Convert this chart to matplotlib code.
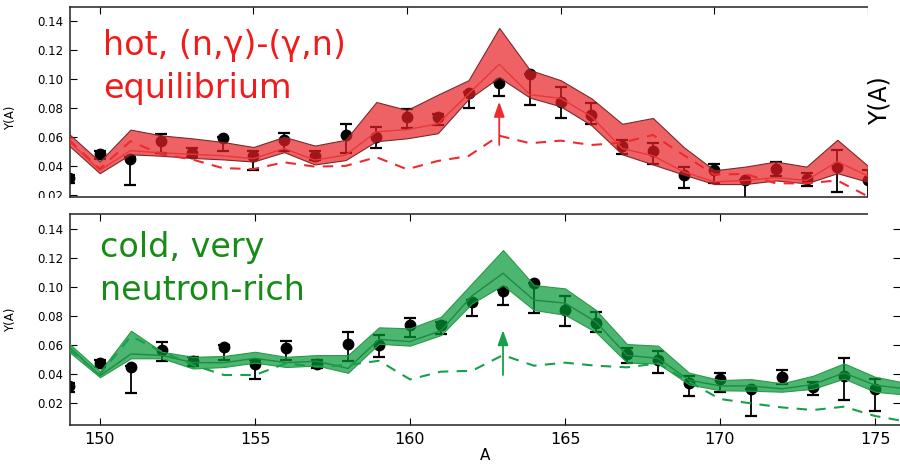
import matplotlib
matplotlib.use("Agg")
import matplotlib.pyplot as plt
from matplotlib.patches import Rectangle

# ---------------- data ----------------
A_exp = list(range(149, 176))
Y_exp = [0.032, 0.048, 0.045, 0.057, 0.049, 0.059, 0.047, 0.058, 0.047, 0.061,
         0.060, 0.074, 0.074, 0.090, 0.097, 0.103, 0.084, 0.075, 0.054, 0.050,
         0.034, 0.037, 0.030, 0.038, 0.031, 0.039, 0.030]
Y_err_lo = [0.004, 0.003, 0.018, 0.008, 0.003, 0.009, 0.010, 0.008, 0.003, 0.012,
            0.008, 0.008, 0.006, 0.010, 0.009, 0.021, 0.011, 0.006, 0.006, 0.009,
            0.009, 0.009, 0.019, 0.005, 0.005, 0.017, 0.015]
Y_err_hi = [0.002, 0.002, 0.001, 0.005, 0.003, 0.001, 0.003, 0.005, 0.003, 0.008,
            0.007, 0.005, 0.002, 0.001, 0.001, 0.000, 0.010, 0.008, 0.004, 0.006,
            0.005, 0.004, 0.000, 0.005, 0.004, 0.012, 0.007]

A_mod = list(range(149, 177))
hot_lo = [0.054, 0.035, 0.048, 0.047, 0.0455, 0.0445, 0.043, 0.0495, 0.041, 0.044,
          0.057, 0.059, 0.0625, 0.086, 0.101, 0.087, 0.081, 0.068, 0.048, 0.041,
          0.034, 0.0275, 0.0275, 0.030, 0.028, 0.035, 0.029, 0.027]
hot_hi = [0.062, 0.043, 0.065, 0.061, 0.059, 0.0565, 0.053, 0.060, 0.054, 0.058,
          0.084, 0.0785, 0.089, 0.099, 0.135, 0.106, 0.099, 0.0865, 0.069, 0.073,
          0.053, 0.037, 0.0395, 0.043, 0.0395, 0.058, 0.040, 0.035]
hot_mid = [0.057, 0.037, 0.0505, 0.049, 0.048, 0.047, 0.045, 0.052, 0.044, 0.0475,
           0.0635, 0.065, 0.069, 0.0895, 0.110, 0.089, 0.0865, 0.074, 0.052, 0.047,
           0.036, 0.029, 0.030, 0.032, 0.030, 0.043, 0.033, 0.030]
hot_dash = [0.058, 0.038, 0.057, 0.048, 0.0445, 0.0385, 0.0378, 0.0425, 0.0395, 0.040,
            0.046, 0.0377, 0.0434, 0.0468, 0.0608, 0.0556, 0.0574, 0.0544, 0.056, 0.0613,
            0.0475, 0.034, 0.0345, 0.028, 0.028, 0.030, 0.019, 0.015]

cold_lo = [0.0555, 0.038, 0.051, 0.051, 0.044, 0.045, 0.048, 0.045, 0.046, 0.041,
           0.061, 0.0597, 0.067, 0.0888, 0.1014, 0.0842, 0.081, 0.069, 0.048, 0.0475,
           0.033, 0.029, 0.0287, 0.028, 0.030, 0.037, 0.028, 0.026]
cold_hi = [0.0613, 0.042, 0.070, 0.0555, 0.052, 0.0526, 0.0555, 0.052, 0.0532, 0.0532,
           0.0723, 0.0716, 0.0796, 0.1026, 0.1255, 0.1014, 0.0991, 0.0842, 0.0608, 0.0597,
           0.0411, 0.036, 0.0367, 0.0338, 0.039, 0.0475, 0.0383, 0.034]
cold_mid = [0.059, 0.039, 0.054, 0.053, 0.048, 0.048, 0.051, 0.048, 0.049, 0.044,
            0.064, 0.0625, 0.070, 0.094, 0.1095, 0.091, 0.089, 0.076, 0.053, 0.051,
            0.036, 0.032, 0.032, 0.030, 0.033, 0.041, 0.0325, 0.030]
cold_dash = [0.057, 0.040, 0.0663, 0.0555, 0.0464, 0.0395, 0.0395, 0.0475, 0.0452, 0.0464,
             0.0493, 0.0365, 0.0418, 0.0424, 0.0532, 0.0459, 0.048, 0.0459, 0.0448, 0.0475,
             0.0349, 0.023, 0.020, 0.0172, 0.0154, 0.0177, 0.0113, 0.0075]

arrow_A = 163
hot_arrow = [0.0544, 0.0842]
cold_arrow = [0.0395, 0.0704]

y_ticks = [0.02, 0.04, 0.06, 0.08, 0.10, 0.12, 0.14]
y_ticklabels = ["0.02", "0.04", "0.06", "0.08", "0.10", "0.12", "0.14"]
x_ticks = [150, 155, 160, 165, 170, 175]

hot_text = ["hot, (n,\u03b3)-(\u03b3,n)", "equilibrium"]
cold_text = ["cold, very", "neutron-rich"]

# ---------------- layout ----------------
W, H = 900, 466
fig = plt.figure(figsize=(W / 100, H / 100), dpi=100)
fig.patch.set_facecolor("white")


def px_rect(l, t, r, b):
    return [l / W, 1 - b / H, (r - l) / W, (b - t) / H]


ax1 = fig.add_axes(px_rect(70, 7, 868, 197))
ax2 = fig.add_axes(px_rect(70, 214, 900, 425))

x_left = 150 - 30 / 31.0
ax1.set_xlim(x_left, 150 + 768 / 31.0)
ax2.set_xlim(x_left, 150 + 800 / 31.0)
ax1.set_ylim(0.0186, 0.1494)
ax2.set_ylim(0.0051, 0.1503)

panels = [
    (ax1, hot_lo, hot_hi, hot_mid, hot_dash, hot_arrow,
     (0.91, 0.12, 0.14, 0.70), "#7a2a2a", "#e8383c", "#ee2a2f", "#ee2a2f"),
    (ax2, cold_lo, cold_hi, cold_mid, cold_dash, cold_arrow,
     (0.0, 0.59, 0.20, 0.70), "#2a9a4a", "#1e8a46", "#17a04a", "#17a04a"),
]

for (ax, lo, hi, mid, dash, arr, fc, ec, lc, dc, ac) in panels:
    ax.errorbar(A_exp, Y_exp, yerr=[Y_err_lo, Y_err_hi], fmt="o", color="black",
                ms=7.5, capsize=4.5, elinewidth=1.3, capthick=1.6, zorder=2)
    ax.fill_between(A_mod, lo, hi, facecolor=fc, edgecolor=ec, linewidth=0.8,
                    zorder=3)
    ax.plot(A_mod, mid, color=lc, lw=1.0, zorder=4)
    ax.plot(A_mod, dash, color=dc, lw=1.5, dashes=(5, 4), zorder=4)
    ax.annotate("", xy=(arrow_A, arr[1]), xytext=(arrow_A, arr[0]),
                arrowprops=dict(arrowstyle="-|>,head_length=0.9,head_width=0.32",
                                color=ac, lw=1.3, shrinkA=0, shrinkB=0),
                zorder=5)
    ax.set_yticks(y_ticks)
    ax.set_yticklabels(y_ticklabels)
    ax.set_xticks(x_ticks)
    ax.tick_params(axis="y", labelsize=8.5, direction="in", length=5, width=0.8,
                   pad=5, colors="black")
    ax.tick_params(axis="x", labelsize=11.5, direction="in", length=5, width=0.8,
                   pad=5)
    for sp in ax.spines.values():
        sp.set_color("#222222")
        sp.set_linewidth(1.1)
    ax.set_ylabel("Y(A)", fontsize=8.5)

# top panel: no x labels, no right side
ax1.tick_params(axis="x", bottom=False, top=True, labelbottom=False)
ax1.tick_params(axis="y", left=True, right=False)
ax1.spines["right"].set_visible(False)
ax1.yaxis.set_label_coords((17 - 70) / 798.0, (197 - 118) / 190.0)

# bottom panel
ax2.tick_params(axis="x", bottom=True, top=True)
ax2.tick_params(axis="y", left=True, right=True)
ax2.spines["right"].set_visible(False)
ax2.set_xlabel("A", fontsize=11, labelpad=1)
ax2.yaxis.set_label_coords((17 - 70) / 830.0, 0.5)

# panel annotations
fig.text(103 / W, 1 - 55 / H, hot_text[0], color="#f01c1c", fontsize=24,
         va="baseline", ha="left")
fig.text(103 / W, 1 - 98 / H, hot_text[1], color="#f01c1c", fontsize=24,
         va="baseline", ha="left")
fig.text(100 / W, 1 - 257 / H, cold_text[0], color="#168c16", fontsize=24,
         va="baseline", ha="left")
fig.text(100 / W, 1 - 300 / H, cold_text[1], color="#168c16", fontsize=24,
         va="baseline", ha="left")

# white masks reproducing the cropped composite
fig.add_artist(Rectangle((868 / W, 1 - 222 / H), 40 / W, 222 / H,
                         transform=fig.transFigure, facecolor="white",
                         edgecolor="none", zorder=8))
fig.add_artist(Rectangle((0, 1 - 212 / H), 68 / W, 14.5 / H,
                         transform=fig.transFigure, facecolor="white",
                         edgecolor="none", zorder=8))
fig.text(880 / W, 1 - 101 / H, "Y(A)", rotation=90, fontsize=17,
         ha="center", va="center", zorder=10)

fig.savefig("out.png", dpi=100)
